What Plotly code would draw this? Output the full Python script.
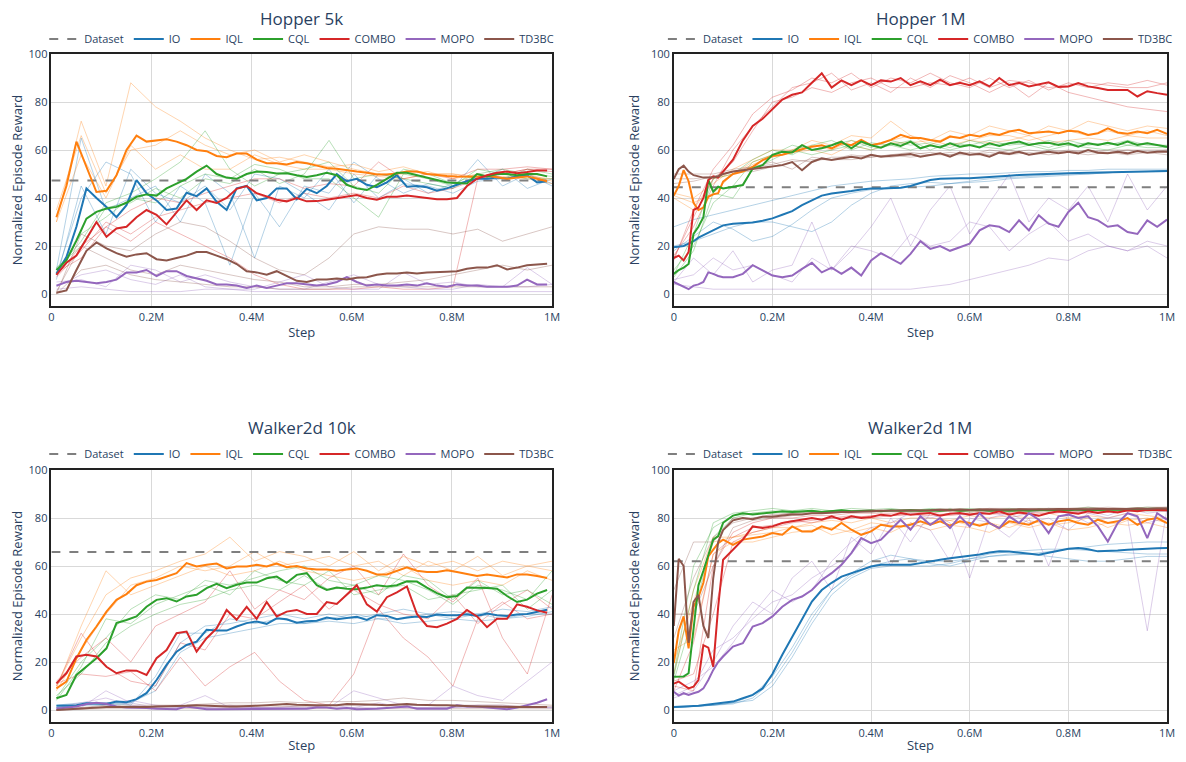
import numpy as np
import plotly.graph_objects as go

# ---------------- categories / labels ----------------
METHODS = ["IO", "IQL", "CQL", "COMBO", "MOPO", "TD3BC"]
PANEL_TITLES = ["Hopper 5k", "Hopper 1M", "Walker2d 10k", "Walker2d 1M"]
DATASET_SCORE = [47.3, 44.5, 65.8, 62.0]
X_TICK_VALS = [0, 200000, 400000, 600000, 800000, 1000000]
X_TICK_TEXT = ["0", "0.2M", "0.4M", "0.6M", "0.8M", "1M"]
Y_TICK_VALS = [0, 20, 40, 60, 80, 100]

# step grids (in steps)
LEFT_MEAN_STEPS = (np.arange(50) * 0.02 + 0.01) * 1e6
LEFT_SEED_STEPS = np.linspace(0.01, 1.0, 21) * 1e6
RIGHT_MEAN_STEPS = np.concatenate([np.arange(0, 10) * 0.01, np.arange(10, 101, 2) * 0.01]) * 1e6
RIGHT_SEED_STEPS = np.linspace(0.0, 1.0, 26) * 1e6

# ---------------- Hopper 5k ----------------
H5K_IO = [8.4, 15.4, 28, 44, 40, 36.3, 32, 37, 47.5, 42,
          39, 35, 35.6, 42.2, 40.8, 44, 38.4, 35, 44, 45,
          39, 40, 44, 44, 39.5, 43.8, 42, 45, 50, 47,
          48, 45.5, 44.5, 46.5, 49.5, 44.7, 45, 44.5, 43, 44,
          45.5, 47, 48, 48, 48.5, 48, 49, 49.5, 46.5, 47]
H5K_IQL = [32, 45, 63.5, 53, 42.5, 43, 49.5, 60, 66, 63.5,
           64, 64.5, 63.5, 62, 60, 59.5, 57.5, 57, 58.5, 58.5,
           56, 54.5, 54.5, 54, 55, 54.5, 53.5, 52.5, 52.2, 51.5,
           51, 50.5, 49.8, 49.8, 50.2, 51, 51, 50, 49.5, 49.2,
           49, 49, 48.9, 49.3, 48.5, 48, 48.5, 49, 48, 47]
H5K_CQL = [10, 14, 22.3, 31.4, 34.2, 35.6, 36.3, 38, 40.5, 41.5,
           41, 44, 46, 48, 51, 53.5, 50, 48.5, 48, 50,
           51, 50.8, 50.2, 50.3, 49.5, 48.8, 49.5, 50.5, 49.5, 45.5,
           44, 43.3, 45.5, 48, 50.5, 50.5, 49.6, 48.5, 47.5, 46.5,
           46.3, 46, 50, 49, 50, 50, 49.5, 50, 50, 49]
H5K_COMBO = [8, 13, 16, 23, 30, 23.8, 27.3, 28, 32, 35,
             33, 29, 34, 39, 35, 39, 37.9, 40, 43.8, 45,
             42, 40.5, 39.3, 38.6, 40, 38.6, 38.7, 39.3, 40, 40.7,
             41.2, 40, 39.3, 40.5, 40.5, 41, 40.5, 39.8, 39.5, 39.5,
             40, 45, 48, 49.5, 50.5, 51, 50.3, 50.8, 51.5, 51.5]
H5K_MOPO = [3.5, 5, 5.5, 5, 4.5, 5, 6, 9, 9, 10,
            7.5, 9.5, 9.5, 7.5, 6.5, 5.5, 4, 4, 3.5, 2.5,
            3.5, 2.5, 3.5, 4.5, 4.5, 4, 3.5, 4, 5, 7,
            5, 3.5, 4, 3.5, 3.5, 4, 3.5, 4.5, 3.5, 3,
            4, 3.5, 3.5, 3, 3, 3, 3.5, 6, 4, 4]
H5K_TD3BC = [0.5, 1.5, 10, 18, 21.5, 19, 17, 15.5, 16.5, 17,
             14.5, 14, 15, 16, 17.5, 17.5, 16, 14.5, 12.5, 9.5,
             9, 8, 9.5, 7.5, 5.5, 5, 6, 6, 6.5, 6,
             6.8, 7, 8, 8.5, 8.5, 9, 8.5, 9, 9, 9.3,
             9.5, 10.5, 11, 11, 12, 10.2, 11, 12, 12.3, 12.6]

H5K_IO_SEEDS = [
    [8, 40, 55, 50, 30, 45, 38, 12, 42, 28, 45, 42, 55, 48, 42, 46, 44, 56, 45, 50, 45],
    [10, 65, 35, 40, 45, 30, 50, 42, 15, 45, 40, 52, 38, 50, 48, 42, 46, 48, 52, 44, 48],
    [6, 45, 25, 52, 42, 38, 45, 35, 50, 48, 42, 35, 50, 40, 46, 45, 42, 47, 48, 50, 46]]
H5K_IQL_SEEDS = [
    [30, 72, 45, 88, 78, 72, 65, 60, 56, 57, 55, 53, 54, 51, 53, 50, 50, 49, 50, 49, 48],
    [35, 66, 42, 60, 62, 68, 62, 58, 60, 55, 58, 55, 52, 50, 50, 51, 48, 50, 48, 50, 47],
    [30, 58, 40, 62, 52, 58, 52, 52, 58, 54, 52, 52, 50, 49, 48, 50, 50, 48, 49, 48, 46]]
H5K_CQL_SEEDS = [
    [10, 22, 38, 42, 48, 55, 68, 52, 45, 50, 52, 55, 45, 42, 52, 50, 46, 50, 48, 52, 50],
    [9, 25, 32, 40, 38, 45, 50, 48, 54, 52, 48, 48, 40, 32, 50, 48, 45, 52, 50, 48, 48],
    [11, 20, 36, 38, 44, 40, 48, 46, 52, 46, 50, 64, 48, 50, 48, 46, 44, 50, 52, 50, 49]]
H5K_COMBO_SEEDS = [
    [8, 20, 28, 35, 40, 38, 42, 45, 48, 48, 44, 46, 45, 55, 48, 50, 48, 52, 52, 53, 52],
    [7, 18, 30, 25, 32, 35, 38, 40, 42, 38, 42, 40, 42, 40, 45, 42, 44, 48, 50, 52, 51],
    [9, 15, 28, 22, 30, 25, 20, 15, 8, 4, 2, 2, 2, 3, 2, 2, 3, 48, 50, 52, 52]]
H5K_MOPO_SEEDS = [
    [3, 8, 10, 6, 4, 8, 3, 2, 2, 5, 8, 3, 2, 2, 9, 4, 5, 3, 3, 11, 4],
    [5, 6, 3, 12, 10, 5, 8, 5, 3, 2, 2, 5, 8, 4, 3, 2, 2, 4, 3, 3, 4],
    [2, 3, 2, 1, 1, 1, 2, 2, 1, 1, 1, 1, 1, 1, 1, 1, 1, 1, 1, 1, 1]]
H5K_TD3BC_SEEDS = [
    [0, 25, 20, 18, 25, 30, 28, 22, 15, 10, 8, 15, 25, 28, 27, 27, 25, 27, 22, 25, 28],
    [1, 20, 15, 10, 8, 12, 10, 8, 6, 5, 3, 3, 4, 4, 5, 6, 8, 10, 12, 10, 12],
    [0, 10, 12, 8, 6, 5, 4, 3, 3, 2, 2, 2, 3, 3, 3, 3, 3, 3, 3, 3, 3]]

# ---------------- Hopper 1M ----------------
H1M_IO = [19.5, 19.7, 20, 21, 22, 23.5, 24.5, 25.5, 26.5, 27.5,
          28.6, 29.3, 29.6, 29.8, 30.5, 31.5, 33, 34.5, 37, 39,
          41, 41.9, 42.3, 42.9, 43.5, 44, 44, 44, 44.3, 45,
          46.3, 47.5, 48, 48.2, 48.2, 48.2, 48.4, 48.7, 48.9, 49.3,
          49.6, 49.8, 49.9, 50, 50.2, 50.3, 50.4, 50.5, 50.6, 50.8,
          50.9, 51, 51, 51.1, 51.2, 51.2]
H1M_IQL = [41, 45, 51.6, 47, 38, 35, 36, 40.5, 41.5, 42,
           46.8, 50, 51, 53, 55.8, 57.5, 58, 59.3, 60.3, 61.4,
           62, 60.7, 62.8, 62, 64.2, 62, 62.8, 64.2, 66.3, 65,
           65, 64.2, 63.5, 65.6, 65, 66.3, 65.6, 67, 66.3, 67.7,
           68.4, 67, 67.2, 67.7, 67, 68, 67.7, 66.3, 67, 69,
           67.3, 66.8, 67.7, 67, 68.4, 66.7]
H1M_CQL = [8.4, 10, 11, 12.5, 25, 28, 32, 47.5, 42.6, 44.7,
           44, 44.7, 45.4, 52.3, 53.7, 58, 59.3, 59, 62, 60,
           60.7, 62, 63.5, 60.7, 63.5, 62, 61, 62.8, 61.7, 63.5,
           60.7, 62, 61.1, 62.8, 61.4, 62.1, 61.1, 62.8, 61.7, 62.8,
           63.5, 62.1, 62.8, 63, 62.1, 62.8, 61.4, 62.8, 62.1, 63,
           62.1, 63.5, 62.1, 62.8, 62.1, 61.4]
H1M_COMBO = [15, 16, 14, 17.5, 35, 36, 40, 47.5, 49, 48.5,
             51, 56, 64, 70, 73, 77, 81, 83, 84, 88,
             92, 86, 89, 87, 89, 87, 89, 88.5, 90, 87,
             88.6, 87, 89.3, 87, 88, 87, 88.6, 86.5, 90, 87,
             88, 86.5, 87.2, 88.2, 86.3, 86.5, 87.9, 86.5, 85.8, 85,
             85, 85, 82.3, 84.5, 83.7, 83]
H1M_MOPO = [5, 4, 3, 2, 3.5, 4, 5, 9, 8.4, 7.5,
            7, 7, 8.4, 12, 9.8, 7.7, 7, 7.7, 10.5, 13,
            9, 11, 8.4, 11, 7.7, 14, 17, 14.7, 12.6, 16.7,
            22, 18.8, 20, 18, 19.5, 21, 26.5, 28.6, 28, 25.8,
            30.7, 26.5, 32.8, 29.3, 28, 34.2, 38, 32, 30.7, 28,
            28.6, 25.8, 25, 30.7, 28, 31]
H1M_TD3BC = [48, 52, 53.5, 51, 49.5, 49, 48.5, 48.5, 48.5, 49,
             50, 51, 51.5, 52, 52.5, 53, 53.7, 55, 51.6, 55,
             56.5, 55.8, 56.5, 57.2, 56.5, 58, 57.2, 57.5, 58, 58.3,
             57.2, 58, 58.6, 57.2, 58.9, 58, 58.3, 57.2, 58.9, 58.3,
             59.3, 58, 58.6, 59.3, 58.6, 59.3, 58.6, 60, 58.9, 58.6,
             59.3, 58.6, 59.6, 58.9, 59.3, 59.3]

H1M_IO_SEEDS = [
    [28, 31, 33, 35, 37, 39, 41, 43, 45, 46, 47, 47.5, 48, 49, 49.5, 50, 50, 50.5, 51, 51, 51.5, 51.5, 52, 52, 52, 52],
    [18, 24, 30, 27, 22, 24, 29, 35, 40, 42, 43.5, 44, 44.5, 45, 46, 47, 48, 48.5, 49, 49.5, 50, 50, 50.5, 51, 51, 51],
    [20, 22, 25, 28, 30, 30, 28, 26, 30, 37, 42, 45, 46, 46.5, 46, 46.5, 47, 48, 48.5, 49, 49.5, 50, 50.5, 51, 51, 51.5]]
H1M_IQL_SEEDS = [
    [42, 40, 46, 52, 56, 60, 60, 64, 62, 66, 65, 72, 66, 64, 68, 66, 70, 68, 66, 70, 68, 72, 70, 68, 70, 69],
    [40, 35, 48, 50, 55, 58, 60, 62, 60, 64, 62, 64, 66, 62, 66, 64, 66, 66, 64, 66, 68, 66, 68, 66, 68, 66],
    [41, 38, 42, 50, 54, 57, 59, 60, 58, 62, 60, 63, 63, 64, 62, 64, 63, 64, 66, 63, 64, 65, 64, 66, 65, 65]]
H1M_CQL_SEEDS = [
    [8, 25, 48, 50, 56, 60, 58, 62, 64, 60, 63, 62, 64, 60, 63, 62, 64, 62, 63, 61, 64, 62, 63, 62, 63, 61],
    [10, 20, 38, 45, 55, 58, 62, 60, 62, 64, 61, 64, 62, 63, 61, 64, 62, 63, 62, 64, 62, 63, 62, 64, 62, 62],
    [7, 18, 42, 40, 52, 56, 60, 58, 60, 62, 60, 62, 60, 62, 60, 62, 61, 60, 62, 60, 62, 61, 60, 62, 61, 61]]
H1M_COMBO_SEEDS = [
    [14, 35, 52, 62, 75, 82, 85, 90, 88, 92, 86, 90, 88, 92, 88, 86, 90, 86, 89, 85, 88, 86, 88, 87, 89, 87],
    [16, 28, 45, 60, 70, 78, 86, 88, 92, 85, 88, 84, 90, 86, 91, 88, 84, 88, 82, 88, 84, 82, 80, 78, 77, 76],
    [15, 32, 48, 55, 68, 80, 82, 86, 84, 88, 90, 86, 86, 88, 87, 90, 86, 89, 88, 86, 87, 88, 87, 86, 86, 88]]
H1M_MOPO_SEEDS = [
    [5, 15, 8, 18, 5, 10, 12, 30, 10, 18, 28, 40, 20, 35, 45, 25, 38, 50, 30, 40, 35, 45, 30, 50, 35, 45],
    [4, 3, 2, 2, 2, 2, 2, 2, 2, 2, 2, 2, 2, 3, 4, 6, 8, 10, 12, 15, 14, 18, 20, 18, 22, 20],
    [6, 8, 15, 10, 12, 8, 5, 15, 10, 20, 18, 15, 25, 20, 22, 30, 28, 18, 25, 30, 22, 25, 20, 18, 20, 15]]
H1M_TD3BC_SEEDS = [
    [50, 50, 50, 52, 53, 55, 52, 57, 56, 58, 57, 58, 59, 58, 59, 58, 60, 59, 60, 59, 60, 59, 60, 60, 60, 60],
    [48, 48, 49, 51, 53, 54, 56, 55, 57, 57, 58, 57, 58, 59, 58, 59, 58, 60, 58, 60, 59, 60, 59, 60, 59, 60],
    [46, 47, 49, 51, 51, 53, 55, 56, 56, 56, 57, 58, 57, 58, 58, 58, 59, 58, 59, 58, 59, 58, 59, 58, 59, 58]]

# ---------------- Walker2d 10k ----------------
W10K_IO = [1.8, 1.8, 2, 2.8, 2.8, 2.5, 3.5, 3.2, 4.5, 7,
           12.5, 18.8, 24.3, 27.1, 28.5, 33.4, 33.1, 33.1, 34.8, 36.2,
           36.9, 35.9, 38.2, 37.8, 36.4, 37, 37.2, 38.5, 37.8, 38.2,
           38.8, 37.5, 39.5, 39.2, 37.8, 38.5, 39, 38.8, 39.8, 39.5,
           39.5, 39.9, 39.2, 40.2, 39.5, 39.2, 39.8, 40, 40.8, 41.8]
W10K_IQL = [9, 11.8, 21.6, 29.2, 34.8, 41, 45.9, 48.3, 52, 53.5,
            54.2, 55.6, 57, 61.2, 59.8, 60.5, 61, 59, 59.8, 59.8,
            60.5, 59.8, 61, 59.5, 60, 59, 58.5, 58.5, 58, 58.5,
            59, 58, 56.5, 56.5, 58, 59.5, 58, 57.5, 57.5, 58.2,
            57.5, 56.5, 55.8, 56.5, 56, 55.2, 56.5, 56.5, 55.8, 55]
W10K_CQL = [4.9, 6.3, 14.6, 18, 21.6, 25.7, 36.2, 37.5, 39, 43,
            45.9, 46.6, 45.2, 47.3, 48, 50.8, 52.6, 50.8, 52.2, 53.1,
            53.1, 54.9, 55.6, 53, 56.3, 57, 52, 50, 51, 50.5,
            50.3, 51, 52, 51.5, 52, 53.6, 53.5, 51, 48.7, 47,
            47.5, 51, 51, 50.8, 50.5, 47.5, 45, 46, 48.5, 50]
W10K_COMBO = [11.1, 15.3, 22.3, 23, 22.3, 18, 15.3, 16.5, 16.4, 14.6,
              21.6, 25, 32, 32.7, 24.3, 29.9, 34, 41.7, 37.6, 43,
              38, 45, 39, 41, 41.7, 40, 40, 45, 44.2, 48,
              52, 44, 41, 47, 49, 51.5, 40, 35, 34.5, 36,
              38, 41.7, 39, 34.5, 38, 38, 44, 43, 41.5, 40.5]
W10K_MOPO = [0.5, 1, 1.5, 2.5, 3, 2.5, 1.5, 1, 1, 0.8,
             0.5, 0.3, 0.3, 1.5, 1, 0.3, 0.3, 0.3, 0.5, 0.5,
             0.5, 0.5, 0.3, 0.3, 0.3, 0.5, 1, 1, 0.5, 0.8,
             0.3, 0.3, 0.5, 0.8, 1.2, 1.5, 0.5, 0.5, 0.8, 0.5,
             2, 1.5, 1.5, 1, 0.5, 0.3, 1, 2, 3, 4.5]
W10K_TD3BC = [0, 0.3, 0.5, 1, 1.2, 1.3, 1.3, 1.2, 1.2, 1.3,
              1.5, 1.5, 1.5, 1.8, 2, 1.8, 1.5, 1.5, 1.5, 1.5,
              1.8, 2, 2.2, 2.5, 2.2, 2, 2, 2, 2, 2.5,
              2.5, 2.3, 2.2, 2, 2.2, 2.5, 2.2, 2, 2, 2,
              1.8, 1.5, 1.5, 1.5, 1.3, 1.2, 1.2, 1.2, 1.2, 1.2]

W10K_IO_SEEDS = [
    [2, 3, 3, 3, 10, 28, 35, 36, 38, 40, 38, 40, 38, 40, 42, 40, 41, 40, 42, 41, 43],
    [1, 2, 3, 2, 14, 32, 32, 38, 36, 38, 36, 38, 40, 38, 38, 40, 38, 40, 38, 40, 40],
    [1, 2, 2, 3, 8, 24, 30, 32, 34, 36, 36, 37, 36, 38, 36, 37, 38, 37, 38, 39, 41]]
W10K_IQL_SEEDS = [
    [10, 30, 48, 55, 58, 62, 65, 72, 62, 66, 64, 60, 66, 58, 64, 60, 62, 58, 62, 60, 58],
    [8, 25, 40, 52, 55, 60, 58, 60, 66, 60, 62, 64, 60, 62, 56, 62, 58, 64, 56, 60, 62],
    [9, 35, 58, 48, 52, 56, 60, 56, 58, 62, 58, 56, 54, 56, 60, 54, 52, 54, 52, 58, 54]]
W10K_CQL_SEEDS = [
    [5, 20, 30, 42, 48, 46, 54, 52, 55, 58, 60, 54, 52, 56, 54, 50, 44, 52, 50, 46, 58],
    [4, 18, 38, 36, 44, 48, 52, 48, 58, 54, 52, 58, 48, 50, 52, 46, 48, 50, 52, 42, 50],
    [6, 15, 28, 35, 40, 44, 46, 50, 52, 50, 56, 50, 52, 48, 56, 54, 46, 54, 48, 50, 44]]
W10K_COMBO_SEEDS = [
    [12, 22, 30, 20, 35, 40, 45, 58, 42, 50, 46, 55, 60, 48, 65, 52, 45, 55, 30, 15, 48],
    [10, 32, 18, 12, 10, 28, 25, 40, 38, 45, 52, 42, 50, 44, 40, 38, 48, 36, 44, 50, 42],
    [11, 15, 14, 16, 8, 22, 10, 18, 24, 12, 4, 2, 15, 42, 30, 22, 10, 38, 45, 38, 40]]
W10K_MOPO_SEEDS = [
    [1, 3, 5, 2, 1, 2, 6, 1, 1, 1, 2, 1, 8, 5, 2, 2, 10, 6, 4, 12, 20],
    [1, 2, 3, 4, 2, 1, 1, 2, 1, 1, 1, 2, 1, 1, 1, 1, 1, 2, 2, 1, 1],
    [0, 1, 8, 3, 1, 1, 1, 1, 1, 1, 1, 1, 1, 3, 1, 1, 1, 1, 1, 1, 1]]
W10K_TD3BC_SEEDS = [
    [0, 1, 2, 2, 2, 2, 2.5, 3, 3, 3.5, 3, 3.5, 3.5, 4, 5, 4, 4, 3.5, 3, 2.5, 2],
    [0, 0.5, 1, 1, 1.5, 1.5, 2, 2, 2, 1.5, 1.5, 2, 2, 2, 2, 2, 2, 2, 2, 1.5, 1.5],
    [0, 0.3, 0.5, 0.5, 0.5, 0.5, 0.5, 0.5, 0.5, 0.5, 0.5, 0.5, 0.5, 0.5, 0.5, 0.5, 0.5, 0.5, 0.5, 0.5, 0.5]]

# ---------------- Walker2d 1M ----------------
W1M_IO = [1.2, 1.4, 1.5, 1.6, 1.7, 1.8, 2, 2.2, 2.4, 2.6,
          2.8, 3.5, 4.9, 6.3, 9, 15, 23, 30.6, 38.2, 45.2,
          50, 53, 55.6, 57, 58.7, 59.8, 60.5, 60.5, 60.2, 60.5,
          61.2, 62, 62.6, 63.2, 63.7, 64, 64.8, 65.6, 66.1, 66,
          65.6, 65, 64.7, 65.5, 66.5, 67.2, 67.5, 67, 66.1, 66.2,
          66.5, 66.8, 67.1, 67.3, 67.4, 67.5]
W1M_IQL = [19.5, 33, 39, 25.7, 43, 47, 53, 64, 66.8, 69.5,
           71, 68.8, 71, 71.6, 72.3, 73.7, 73, 76.5, 74.4, 74.4,
           76.5, 75.1, 77.9, 75.1, 73, 74.4, 77.2, 76.5, 76.5, 77.2,
           78.6, 77.2, 78.6, 76.8, 78.6, 77.9, 76.8, 77.9, 75.8, 78.6,
           77.9, 77.2, 79, 77.2, 78.6, 79.3, 77.9, 77.2, 79.3, 77.9,
           78.6, 80, 77.2, 79.3, 80, 77.9]
W1M_CQL = [13.9, 14, 14, 15.3, 35, 52, 58, 65, 71, 72.5,
           78, 81, 82, 81.5, 82, 82.5, 82.8, 82.5, 82.8, 83,
           82.5, 83, 83.2, 82.8, 83, 83, 82.8, 83.2, 83, 83.2,
           83, 83.2, 83, 83.4, 83, 83.2, 83.4, 83, 83.2, 83,
           83.3, 83, 83.4, 83.2, 83.4, 83.2, 83.5, 83.2, 83.4, 83.3,
           83.5, 83.3, 83.6, 83.3, 83.5, 83.4]
W1M_COMBO = [11, 11.8, 10.4, 9, 9.7, 12.5, 27, 26, 18, 43,
             62.6, 66.8, 71, 76.5, 75.8, 76.5, 77.9, 78.6, 79.3, 80,
             79.3, 80.7, 79.3, 80.7, 80, 80.4, 81.4, 80.9, 82.1, 81.4,
             81.8, 82.1, 80.9, 81.8, 82.1, 81.4, 82.1, 81.8, 82.8, 81.4,
             82.3, 81.8, 80.9, 82.1, 82.8, 82.3, 81.8, 82.8, 82.1, 82.8,
             82.3, 83.2, 82.8, 83.4, 83.4, 83.2]
W1M_MOPO = [7.6, 6, 7, 6.3, 7, 7.6, 9, 12.5, 16.7, 20,
            22.3, 26.4, 27.8, 34.8, 36.2, 39, 43, 45.9, 47.3, 50,
            54.2, 57, 60.5, 65.4, 71.6, 69.5, 71, 75.1, 79.3, 75.1,
            80.7, 77.2, 80, 75.8, 80.7, 76.5, 82, 77.9, 75.8, 80.7,
            77.9, 82, 79.3, 73.7, 80.7, 81.4, 80, 80.7, 76.5, 70.2,
            77.9, 82, 80.7, 71.6, 82, 79.3]
W1M_TD3BC = [35, 63, 60, 28, 45, 48, 35, 30, 55, 70,
             75, 79, 80, 79.5, 80.5, 80.5, 81, 81.5, 81.5, 82,
             82, 82.3, 82.5, 82.5, 82.8, 82.8, 83, 83, 83, 83,
             83.2, 83.2, 83.4, 83.2, 83.5, 83.3, 83.5, 83.4, 83.6, 83.4,
             83.6, 83.5, 83.7, 83.5, 83.7, 83.6, 83.8, 83.6, 83.8, 83.7,
             83.9, 83.7, 84, 83.8, 84, 84]

W1M_IO_SEEDS = [
    [1, 1.5, 2, 3, 6, 14, 26, 40, 50, 56, 60, 62, 63, 62, 62, 63, 64, 64.5, 65, 66, 67, 68, 69, 69.5, 70, 70],
    [1, 1.5, 2, 3, 4, 10, 22, 36, 48, 55, 59, 60, 60, 60, 61, 63, 65, 66, 66.5, 67, 67, 66.5, 66, 65.5, 65, 65],
    [1, 1.5, 2, 2.5, 5, 12, 24, 38, 50, 57, 62, 64.5, 63, 61, 60, 62, 64, 65, 65, 64, 63, 62, 62, 63, 64, 64]]
W1M_IQL_SEEDS = [
    [20, 45, 70, 72, 73, 74, 76, 77, 73, 75, 78, 77, 76, 78, 79, 77, 78, 76, 79, 77, 78, 80, 76, 79, 80, 78],
    [25, 30, 65, 70, 70, 72, 74, 75, 76, 74, 76, 74, 78, 75, 77, 76, 74, 78, 76, 78, 75, 76, 78, 77, 78, 76],
    [15, 50, 72, 72, 74, 76, 76, 78, 79, 78, 80, 78, 80, 80, 79, 81, 80, 81, 80, 82, 80, 81, 80, 82, 81, 80]]
W1M_CQL_SEEDS = [
    [14, 50, 78, 82, 83, 84, 83, 84, 83, 84, 83.5, 84, 83, 84, 83.5, 84, 83, 84, 83.5, 84, 83.5, 84.5, 83.5, 84, 84.5, 84],
    [12, 40, 72, 80, 82, 82, 83, 82.5, 83, 82.5, 83, 83, 82.5, 83, 83, 82.5, 83, 83, 82.5, 83, 83, 83, 83, 83.5, 83, 83],
    [15, 60, 76, 81, 82, 83, 82, 83, 82.5, 83, 82.5, 83, 83.5, 82.5, 83, 83.5, 83, 82.5, 83.5, 83, 83.5, 83, 83.5, 83, 83, 83.5]]
W1M_COMBO_SEEDS = [
    [10, 8, 60, 74, 78, 80, 80, 81, 81, 82, 82, 82, 82.5, 82, 83, 82.5, 83, 82.5, 83, 83, 83.5, 83, 83.5, 83.5, 84, 83.5],
    [12, 15, 40, 70, 74, 76, 78, 79, 80, 80, 81, 81, 81.5, 81, 82, 81.5, 82, 82, 81.5, 82, 82.5, 82, 82.5, 83, 83, 83],
    [8, 28, 65, 72, 76, 77, 79, 78, 80, 81, 80, 81, 81.5, 82, 81, 82, 81.5, 82, 82.5, 82, 82.5, 83, 82.5, 83, 83.5, 83]]
W1M_MOPO_SEEDS = [
    [5, 8, 20, 35, 45, 40, 55, 62, 50, 72, 65, 80, 70, 82, 78, 55, 80, 82, 78, 80, 75, 82, 80, 80, 33, 84],
    [6, 10, 25, 30, 38, 45, 48, 55, 60, 65, 75, 60, 78, 75, 62, 80, 78, 72, 80, 60, 82, 78, 80, 82, 78, 80],
    [8, 12, 18, 28, 40, 50, 45, 50, 62, 70, 76, 78, 82, 80, 82, 81, 83, 80, 82, 84, 82, 83, 81, 84, 82, 83]]
W1M_TD3BC_SEEDS = [
    [30, 55, 72, 78, 80, 81, 82, 82, 82.5, 83, 83, 83, 83.5, 83, 83.5, 83.5, 84, 83.5, 84, 84, 84, 84, 84.5, 84, 84.5, 84.5],
    [40, 40, 60, 76, 79, 80, 81, 82, 82, 82.5, 82.5, 83, 83, 83, 83, 83.5, 83, 83.5, 83.5, 83.5, 83.5, 84, 83.5, 84, 84, 84],
    [50, 70, 70, 80, 80, 81.5, 82, 82.5, 83, 83, 83.5, 83, 83.5, 83.5, 84, 83.5, 84, 84, 83.5, 84, 84, 84.5, 84, 84, 84, 84.5]]

# ---------------- styling ----------------
COLORS = {"IO": "#1f77b4", "IQL": "#ff7f0e", "CQL": "#2ca02c", "COMBO": "#d62728",
          "MOPO": "#9467bd", "TD3BC": "#8c564b"}
DATASET_COLOR = "#7f7f7f"
TEXT_COLOR = "#2a3f5f"


def rgba(hex_color, alpha):
    h = hex_color.lstrip("#")
    r, g, b = int(h[0:2], 16), int(h[2:4], 16), int(h[4:6], 16)
    return f"rgba({r},{g},{b},{alpha})"


def steps_for(grid, n):
    if len(grid) == n:
        return grid
    return np.linspace(grid[0], grid[-1], n)


PANELS = [
    dict(means=[H5K_IO, H5K_IQL, H5K_CQL, H5K_COMBO, H5K_MOPO, H5K_TD3BC],
         seeds=[H5K_IO_SEEDS, H5K_IQL_SEEDS, H5K_CQL_SEEDS, H5K_COMBO_SEEDS, H5K_MOPO_SEEDS, H5K_TD3BC_SEEDS],
         mgrid=LEFT_MEAN_STEPS, sgrid=LEFT_SEED_STEPS),
    dict(means=[H1M_IO, H1M_IQL, H1M_CQL, H1M_COMBO, H1M_MOPO, H1M_TD3BC],
         seeds=[H1M_IO_SEEDS, H1M_IQL_SEEDS, H1M_CQL_SEEDS, H1M_COMBO_SEEDS, H1M_MOPO_SEEDS, H1M_TD3BC_SEEDS],
         mgrid=RIGHT_MEAN_STEPS, sgrid=RIGHT_SEED_STEPS),
    dict(means=[W10K_IO, W10K_IQL, W10K_CQL, W10K_COMBO, W10K_MOPO, W10K_TD3BC],
         seeds=[W10K_IO_SEEDS, W10K_IQL_SEEDS, W10K_CQL_SEEDS, W10K_COMBO_SEEDS, W10K_MOPO_SEEDS, W10K_TD3BC_SEEDS],
         mgrid=LEFT_MEAN_STEPS, sgrid=LEFT_SEED_STEPS),
    dict(means=[W1M_IO, W1M_IQL, W1M_CQL, W1M_COMBO, W1M_MOPO, W1M_TD3BC],
         seeds=[W1M_IO_SEEDS, W1M_IQL_SEEDS, W1M_CQL_SEEDS, W1M_COMBO_SEEDS, W1M_MOPO_SEEDS, W1M_TD3BC_SEEDS],
         mgrid=RIGHT_MEAN_STEPS, sgrid=RIGHT_SEED_STEPS),
]

# layout geometry: the page body has an 8px margin, so the figure starts at (8, 8);
# keep the figure inside the window so no scrollbars appear
OFF = 8
W, H = 1186 - 2 * OFF, 762 - 2 * OFF


def px_x(px):
    return (px - OFF) / W


def px_y(py):
    return 1 - (py - OFF) / H


X_DOMAINS = [[px_x(51.5), px_x(553.5)], [px_x(675.5), px_x(1170)]]
Y_DOMAINS = [[px_y(306), px_y(54)], [px_y(722), px_y(470)]]

fig = go.Figure()

for p, panel in enumerate(PANELS):
    ax = "" if p == 0 else str(p + 1)
    xref, yref = "x" + ax, "y" + ax
    leg = "legend" + ax
    # seed runs (faint)
    for m, method in enumerate(METHODS):
        for run in panel["seeds"][m]:
            fig.add_trace(go.Scatter(
                x=steps_for(panel["sgrid"], len(run)), y=run, mode="lines",
                line=dict(color=rgba(COLORS[method], 0.33), width=1),
                showlegend=False, hoverinfo="skip", xaxis=xref, yaxis=yref, legend=leg))
    # dataset reference
    fig.add_trace(go.Scatter(
        x=[0, 1e6], y=[DATASET_SCORE[p], DATASET_SCORE[p]], mode="lines", name="Dataset",
        line=dict(color=DATASET_COLOR, width=2, dash="dash"),
        xaxis=xref, yaxis=yref, legend=leg))
    # mean curves
    for m, method in enumerate(METHODS):
        ys = panel["means"][m]
        fig.add_trace(go.Scatter(
            x=steps_for(panel["mgrid"], len(ys)), y=ys, mode="lines", name=method,
            line=dict(color=COLORS[method], width=2),
            xaxis=xref, yaxis=yref, legend=leg))

layout = dict(
    width=W, height=H,
    margin=dict(l=0, r=0, t=0, b=0),
    paper_bgcolor="white", plot_bgcolor="white",
    font=dict(family="Open Sans, Arial, sans-serif", color=TEXT_COLOR, size=12),
    annotations=[],
)

for p in range(4):
    ax = "" if p == 0 else str(p + 1)
    col, row = p % 2, p // 2
    layout["xaxis" + ax] = dict(
        domain=X_DOMAINS[col], anchor="y" + ax, range=[0, 1e6],
        tickvals=X_TICK_VALS, ticktext=X_TICK_TEXT, tickfont=dict(size=11),
        ticklabeloverflow="allow",
        showgrid=True, gridcolor="#d9d9d9", gridwidth=1, zeroline=False,
        showline=True, linecolor="#222222", linewidth=1.5, mirror=True, ticks="",
        automargin=False, title=dict(text="Step", font=dict(size=13), standoff=5))
    layout["yaxis" + ax] = dict(
        domain=Y_DOMAINS[row], anchor="x" + ax, range=[-5, 100],
        tickvals=Y_TICK_VALS, tickfont=dict(size=11),
        showgrid=True, gridcolor="#d9d9d9", gridwidth=1, zeroline=False,
        showline=True, linecolor="#222222", linewidth=1.5, mirror=True, ticks="",
        automargin=False, title=dict(text="Normalized Episode Reward", font=dict(size=13), standoff=8))
    cx = (X_DOMAINS[col][0] + X_DOMAINS[col][1]) / 2
    title_y = px_y(18 if row == 0 else 427)
    legend_y = px_y(39 if row == 0 else 454)
    layout["legend" + ax] = dict(
        orientation="h", x=cx, xanchor="center", y=legend_y, yanchor="middle",
        bgcolor="rgba(0,0,0,0)", font=dict(size=11, color=TEXT_COLOR))
    layout["annotations"].append(dict(
        text=PANEL_TITLES[p], x=cx, y=title_y, xref="paper", yref="paper",
        xanchor="center", yanchor="middle", showarrow=False,
        font=dict(size=17, color=TEXT_COLOR)))

fig.update_layout(**layout)
fig.write_html("out.html")
